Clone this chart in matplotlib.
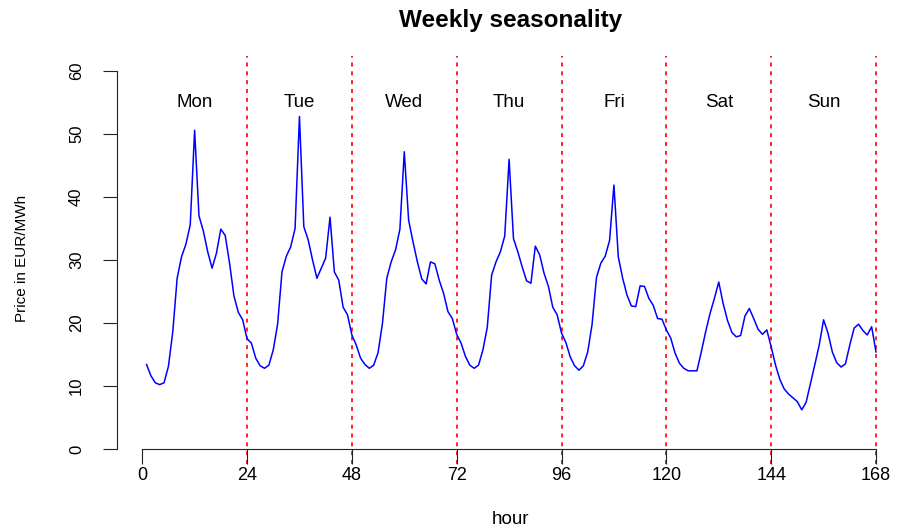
import matplotlib
matplotlib.use("Agg")
import matplotlib.pyplot as plt
import numpy as np

plt.rcParams['font.family'] = ['Liberation Sans', 'DejaVu Sans']

# Hourly prices (EUR/MWh), hours 1..168
mon = [13.4, 11.6, 10.5, 10.2, 10.5, 13.1, 18.6, 27.1, 30.5, 32.5, 35.6, 50.6,
       37.0, 34.6, 31.3, 28.7, 31.1, 34.9, 33.9, 29.5, 24.3, 21.7, 20.5, 17.5]
tue = [16.8, 14.4, 13.2, 12.8, 13.3, 15.7, 19.8, 28.1, 30.6, 32.1, 35.0, 52.8,
       35.3, 33.2, 30.0, 27.1, 28.7, 30.3, 36.8, 28.1, 26.8, 22.5, 21.3, 18.1]
wed = [16.5, 14.4, 13.4, 12.8, 13.3, 15.3, 19.9, 27.1, 29.7, 31.6, 34.9, 47.2,
       36.3, 32.9, 29.7, 27.0, 26.2, 29.7, 29.4, 26.8, 24.7, 21.8, 20.7, 18.2]
thu = [16.8, 14.7, 13.3, 12.8, 13.3, 15.7, 19.3, 27.6, 29.7, 31.3, 33.8, 46.0,
       33.4, 31.3, 28.9, 26.7, 26.3, 32.2, 30.8, 27.9, 25.8, 22.5, 21.3, 18.4]
fri = [16.9, 14.6, 13.2, 12.5, 13.2, 15.4, 19.8, 27.2, 29.5, 30.6, 33.1, 41.9,
       30.5, 27.1, 24.4, 22.7, 22.6, 25.9, 25.8, 23.9, 22.8, 20.7, 20.6, 18.9]
sat = [17.6, 15.2, 13.6, 12.8, 12.4, 12.4, 12.4, 15.4, 18.6, 21.5, 23.9, 26.5,
       23.1, 20.4, 18.5, 17.8, 18.0, 21.1, 22.3, 20.7, 19.0, 18.2, 18.9, 16.2]
sun = [13.3, 11.0, 9.5, 8.7, 8.1, 7.5, 6.2, 7.4, 10.4, 13.4, 16.5, 20.5,
       18.4, 15.4, 13.7, 13.0, 13.5, 16.5, 19.2, 19.8, 18.8, 18.1, 19.4, 15.4]

day_names = ["Mon", "Tue", "Wed", "Thu", "Fri", "Sat", "Sun"]
day_bounds = [24, 48, 72, 96, 120, 144, 168]
x_ticks = [0, 24, 48, 72, 96, 120, 144, 168]
y_ticks = [0, 10, 20, 30, 40, 50, 60]

price = mon + tue + wed + thu + fri + sat + sun
hours = np.arange(1, len(price) + 1)

W, H = 899, 531
fig = plt.figure(figsize=(W / 100, H / 100), dpi=100)
left_px, right_px, top_px, bot_px = 117.4, 899, 56, 464
ax = fig.add_axes([left_px / W, 1 - bot_px / H, (right_px - left_px) / W, (bot_px - top_px) / H])

px_per_hour = (876 - 142.2) / 168
x0 = -(142.2 - left_px) / px_per_hour
x1 = x0 + (right_px - left_px) / px_per_hour
ax.set_xlim(x0, x1)
ax.set_ylim(-2.4, 62.4)

for b in day_bounds:
    ax.axvline(b, color='red', lw=1.2, linestyle=(0, (2.4, 2.9)), zorder=1)

ax.plot(hours, price, color='blue', lw=1.1, zorder=2)

for i, name in enumerate(day_names):
    ax.text(12 + 24 * i, 55, name, ha='center', va='center', fontsize=13.5)

ax.spines['top'].set_visible(False)
ax.spines['right'].set_visible(False)
ax.spines['left'].set_bounds(0, 60)
ax.spines['bottom'].set_position(('data', 0))
ax.spines['bottom'].set_bounds(0, 168)
for s in ('left', 'bottom'):
    ax.spines[s].set_linewidth(0.8)
    ax.spines[s].set_color('#222222')

ax.set_xticks(x_ticks)
ax.set_xticklabels([str(t) for t in x_ticks])
ax.set_yticks(y_ticks)
ax.set_yticklabels([str(t) for t in y_ticks], rotation=90, va='center')
ax.tick_params(axis='x', direction='out', length=11, width=0.8, pad=2, labelsize=13, color='#222222')
ax.tick_params(axis='y', direction='out', length=10, width=0.8, pad=14, labelsize=12, color='#222222')

fig.text(511 / W, 1 - 20 / H, "Weekly seasonality", ha='center', va='center',
         fontsize=17.5, fontweight='bold')
fig.text(511 / W, 1 - 519 / H, "hour", ha='center', va='center', fontsize=13.5)
fig.text(22 / W, 1 - 258 / H, "Price in EUR/MWh", ha='center', va='center',
         rotation=90, fontsize=11)

fig.savefig("out.png", dpi=100)
